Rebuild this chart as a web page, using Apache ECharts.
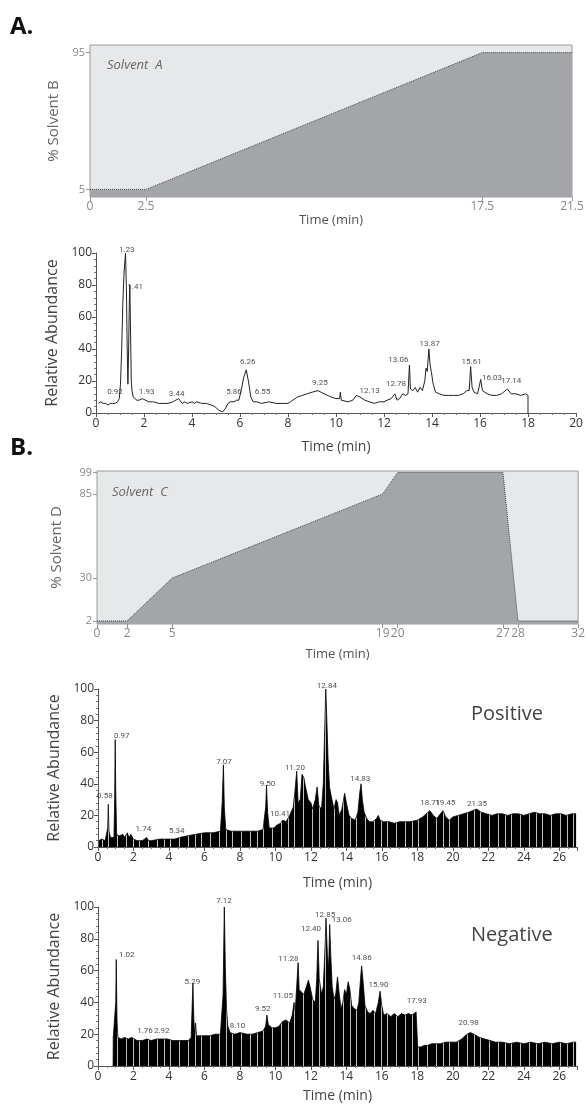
<!DOCTYPE html>
<html>
<head>
<meta charset="utf-8">
<script src="https://cdn.jsdelivr.net/npm/echarts@6/dist/echarts.min.js"></script>
<style>html,body{margin:0;padding:0;background:#fff;}#c{width:588px;height:1104px;}</style>
</head>
<body>
<div id="c"></div>
<script>
// ---------- DATA ----------
const gradA = [[0,5],[2.5,5],[17.5,95],[21.5,95]];
const gradATicksX = [0,2.5,17.5,21.5];
const gradATicksY = [5,95];

const gradB = [[0,2],[2,2],[5,30],[19,85],[20,99],[27,99],[28,2],[32,2]];
const gradBTicksX = [0,2,5,19,20,27,28,32];
const gradBTicksY = [2,30,85,99];

const chromA = [[0.1,6],[0.2,7],[0.3,6],[0.4,6],[0.5,5],[0.6,6],[0.7,6],[0.8,6],[0.9,7],[0.97,9],[1.02,18],[1.07,40],[1.12,70],[1.17,88],[1.23,100],[1.27,75],[1.3,40],[1.33,18],[1.36,40],[1.39,70],[1.41,80],[1.44,50],[1.47,20],[1.5,14],[1.55,10],[1.6,9],[1.7,8],[1.8,8],[1.93,9],[2.0,8],[2.2,7],[2.4,7],[2.6,6],[2.8,6],[3.0,6],[3.2,7],[3.44,9],[3.5,8],[3.6,6],[3.7,7],[3.8,6],[4.0,7],[4.1,6],[4.2,7],[4.4,6],[4.6,6],[4.8,5],[4.95,4],[5.1,2],[5.2,1],[5.3,1],[5.4,3],[5.5,6],[5.6,7],[5.75,7],[5.86,8],[5.95,8],[6.05,14],[6.15,22],[6.26,27],[6.35,20],[6.45,10],[6.55,7],[6.7,7],[6.9,6],[7.2,7],[7.5,6],[7.8,6],[8.0,6],[8.1,7],[8.2,8],[8.4,10],[8.6,11],[8.8,12],[9.0,13],[9.25,14],[9.5,12],[9.8,10],[10.0,9],[10.15,9],[10.18,13],[10.22,8],[10.5,7],[10.7,8],[10.85,11],[11.0,10],[11.2,8],[11.4,7],[11.6,6],[11.8,7],[12.0,7],[12.13,8],[12.3,9],[12.45,12],[12.55,8],[12.65,9],[12.78,12],[12.9,11],[13.0,12],[13.06,30],[13.1,15],[13.2,14],[13.3,16],[13.4,13],[13.5,16],[13.6,14],[13.7,20],[13.75,28],[13.8,26],[13.87,40],[13.92,30],[13.97,26],[14.05,18],[14.15,13],[14.3,12],[14.5,11],[14.7,11],[14.9,11],[15.1,11],[15.3,12],[15.45,14],[15.55,14],[15.61,29],[15.67,16],[15.75,13],[15.9,12],[16.03,21],[16.1,14],[16.3,12],[16.5,11],[16.7,11],[16.9,12],[17.14,15],[17.3,12],[17.5,12],[17.7,11],[17.9,12],[18.0,11],[18.0,0]];
const chromALabels = [[0.79,9,'0.92'],[1.28,98,'1.23'],[1.63,75,'1.41'],[2.11,9,'1.93'],[3.36,8,'3.44'],[5.75,9,'5.86'],[6.32,28,'6.26'],[6.94,9,'6.55'],[9.33,15,'9.25'],[11.4,10,'12.13'],[12.5,14,'12.78'],[12.6,29,'13.06'],[13.9,39,'13.87'],[15.65,28,'15.61'],[16.5,18,'16.03'],[17.3,16,'17.14']];

const chromPos = [[0.05,4],[0.2,5],[0.4,4],[0.5,5],[0.55,12],[0.58,27],[0.62,10],[0.7,6],[0.8,5],[0.9,6],[0.94,30],[0.97,68],[1.0,35],[1.05,8],[1.2,7],[1.4,8],[1.5,6],[1.65,9],[1.75,6],[1.85,8],[2.0,5],[2.2,4],[2.5,4],[2.74,6],[2.85,4],[3.0,4],[3.5,5],[4.0,5],[4.34,5],[4.6,6],[5.0,7],[5.5,8],[6.0,9],[6.5,9],[6.9,10],[7.0,28],[7.07,52],[7.12,25],[7.2,11],[7.5,10],[8.0,10],[8.5,10],[9.0,10],[9.3,11],[9.45,25],[9.5,39],[9.56,22],[9.65,12],[9.9,12],[10.1,14],[10.3,15],[10.41,17],[10.6,16],[10.8,20],[11.0,25],[11.1,35],[11.2,48],[11.28,28],[11.4,30],[11.5,46],[11.6,44],[11.7,38],[11.85,30],[12.0,28],[12.1,24],[12.25,30],[12.35,38],[12.45,26],[12.6,24],[12.7,40],[12.78,75],[12.84,100],[12.9,80],[12.97,55],[13.05,38],[13.15,32],[13.3,24],[13.42,30],[13.5,28],[13.6,20],[13.75,24],[13.9,34],[14.0,28],[14.15,20],[14.3,18],[14.5,17],[14.65,22],[14.75,34],[14.83,40],[14.9,30],[15.0,22],[15.15,18],[15.3,16],[15.5,16],[15.7,18],[15.8,20],[15.9,17],[16.1,16],[16.4,16],[16.7,15],[17.0,16],[17.3,16],[17.6,16],[18.0,17],[18.3,19],[18.5,21],[18.71,23],[18.9,20],[19.1,18],[19.3,21],[19.45,23],[19.6,19],[19.8,17],[20.0,19],[20.3,20],[20.6,21],[20.9,22],[21.1,23],[21.35,24],[21.6,22],[21.9,21],[22.2,20],[22.5,21],[22.8,21],[23.1,20],[23.4,21],[23.7,21],[24.0,20],[24.3,21],[24.6,22],[24.9,21],[25.2,21],[25.5,20],[25.8,21],[26.1,21],[26.4,20],[26.7,21],[26.95,21]];
const chromPosLabels = [[0.39,28,'0.58'],[1.34,66,'0.97'],[2.56,7,'1.74'],[4.44,6,'5.34'],[7.1,50,'7.07'],[9.55,36,'9.50'],[10.26,17,'10.41'],[11.1,46,'11.20'],[12.9,98,'12.84'],[14.78,39,'14.83'],[18.73,24,'18.71'],[19.57,24,'19.45'],[21.36,23,'21.35']];

const chromNeg = [[0.85,0],[0.86,18],[0.95,17],[1.0,40],[1.03,67],[1.07,30],[1.12,18],[1.3,17],[1.5,18],[1.7,17],[1.9,18],[2.0,17],[2.2,16],[2.5,16],[2.76,17],[3.0,16],[3.3,17],[3.6,17],[3.92,17],[4.2,16],[4.5,16],[4.8,16],[5.1,16],[5.25,18],[5.3,35],[5.35,52],[5.4,30],[5.45,20],[5.5,27],[5.55,19],[5.7,19],[6.0,19],[6.3,19],[6.6,20],[6.9,20],[7.05,45],[7.12,100],[7.18,60],[7.25,35],[7.32,25],[7.45,21],[7.7,20],[8.0,21],[8.1,21],[8.4,20],[8.7,20],[9.0,21],[9.3,22],[9.45,25],[9.52,32],[9.6,26],[9.8,24],[10.0,24],[10.2,25],[10.4,28],[10.6,29],[10.8,27],[10.95,32],[11.05,40],[11.12,35],[11.2,50],[11.28,65],[11.34,48],[11.45,47],[11.6,45],[11.75,50],[11.86,54],[11.95,50],[12.1,42],[12.25,40],[12.33,55],[12.4,79],[12.47,55],[12.6,45],[12.7,50],[12.8,75],[12.85,93],[12.93,70],[13.0,62],[13.06,89],[13.12,70],[13.2,50],[13.3,42],[13.4,45],[13.5,56],[13.6,45],[13.7,36],[13.8,40],[13.9,48],[14.0,45],[14.1,53],[14.2,48],[14.3,38],[14.45,36],[14.6,35],[14.7,40],[14.8,55],[14.86,63],[14.95,52],[15.05,38],[15.2,34],[15.35,33],[15.5,35],[15.65,33],[15.8,40],[15.9,47],[16.0,38],[16.1,32],[16.3,33],[16.5,31],[16.7,33],[16.9,31],[17.1,33],[17.3,32],[17.5,33],[17.7,32],[17.93,34],[18.0,33],[18.02,12],[18.2,12],[18.4,13],[18.6,13],[18.8,14],[19.0,14],[19.3,14],[19.6,15],[19.9,15],[20.2,15],[20.5,17],[20.8,20],[20.98,21],[21.2,20],[21.5,18],[21.8,17],[22.1,16],[22.4,15],[22.8,15],[23.2,14],[23.6,15],[24.0,14],[24.4,15],[24.8,14],[25.2,15],[25.6,14],[26.0,15],[26.4,14],[26.8,15],[26.95,15]];
const chromNegLabels = [[1.62,66,'1.02'],[2.65,18,'1.76'],[3.59,18,'2.92'],[5.32,49,'5.29'],[7.1,100,'7.12'],[7.86,21,'8.10'],[9.29,32,'9.52'],[10.42,40,'11.05'],[10.73,63,'11.28'],[12.01,82,'12.40'],[12.8,91,'12.85'],[13.74,88,'13.06'],[14.87,64,'14.86'],[15.81,47,'15.90'],[17.97,37,'17.93'],[20.89,23,'20.98']];

const abundanceRange = [0,100];
// ---------- CHART ----------
const FONT = "'Open Sans', 'Noto Sans', sans-serif";
const chart = echarts.init(document.getElementById('c'), null, {renderer:'canvas'});

// stripe texture imitating the vertical white gaps in the filled chromatograms
function stripePattern(){
  const c = document.createElement('canvas');
  c.width = 31; c.height = 8;
  const g = c.getContext('2d');
  g.fillStyle = '#000'; g.fillRect(0,0,31,8);
  g.fillStyle = 'rgba(255,255,255,0.75)';
  [2,9,15,24].forEach(x => g.fillRect(x,0,1,8));
  return c;
}
const stripes = {image: stripePattern(), repeat:'repeat'};

const grids = [
  {left:90, top:45, width:482, height:152, show:true, backgroundColor:'#e7e8e9', borderColor:'#9a9a9a', borderWidth:1},
  {left:96, top:253, width:480, height:160},
  {left:97, top:471, width:482, height:153, show:true, backgroundColor:'#e7e8e9', borderColor:'#9a9a9a', borderWidth:1},
  {left:98, top:689, width:479, height:158},
  {left:98, top:907, width:479, height:160}
];

function gradX(idx, max, ticks, gap){
  return {gridIndex:idx, type:'value', min:0, max:max, name:'Time (min)', nameLocation:'middle', nameGap:gap,
    nameTextStyle:{fontFamily:FONT, fontSize:13, color:'#555'},
    axisLine:{show:false}, splitLine:{show:false},
    axisTick:{show:true, customValues:ticks, length:4, lineStyle:{color:'#999'}},
    axisLabel:{customValues:ticks, fontFamily:FONT, fontSize:12, color:'#888', margin:4}};
}
function gradY(idx, ticks, name, gap){
  return {gridIndex:idx, type:'value', min:0, max:100, name:name, nameLocation:'middle', nameGap:gap,
    nameTextStyle:{fontFamily:FONT, fontSize:15, color:'#666'},
    axisLine:{show:false}, splitLine:{show:false},
    axisTick:{show:true, customValues:ticks, length:4, lineStyle:{color:'#999'}},
    axisLabel:{customValues:ticks, fontFamily:FONT, fontSize:11, color:'#888', margin:5}};
}
function chromX(idx, max, gap){
  return {gridIndex:idx, type:'value', min:0, max:max, interval:2, name:'Time (min)', nameLocation:'middle', nameGap:gap,
    nameTextStyle:{fontFamily:FONT, fontSize:14, color:'#444'},
    axisLine:{show:true, onZero:false, lineStyle:{color:'#555', width:1}}, splitLine:{show:false},
    axisTick:{show:true, length:4, lineStyle:{color:'#555'}},
    minorTick:{show:true, splitNumber:4, length:2, lineStyle:{color:'#777'}},
    axisLabel:{fontFamily:FONT, fontSize:12, color:'#333', margin:5, showMaxLabel: max % 2 === 0}};
}
function chromY(idx, gap){
  return {gridIndex:idx, type:'value', min:abundanceRange[0], max:abundanceRange[1], interval:20, name:'Relative Abundance', nameLocation:'middle', nameGap:gap,
    nameTextStyle:{fontFamily:FONT, fontSize:16, color:'#444'},
    axisLine:{show:true, onZero:false, lineStyle:{color:'#555', width:1}}, splitLine:{show:false},
    axisTick:{show:true, length:4, lineStyle:{color:'#555'}},
    minorTick:{show:true, splitNumber:5, length:2, lineStyle:{color:'#777'}},
    axisLabel:{fontFamily:FONT, fontSize:12, color:'#333', margin:4}};
}

function labelSeries(idx, data){
  return {type:'scatter', xAxisIndex:idx, yAxisIndex:idx, data:data, symbolSize:1, itemStyle:{color:'rgba(0,0,0,0)'}, z:10, silent:true,
    labelLayout:{hideOverlap:false},
    label:{show:true, position:'top', distance:2, formatter:p=>p.data[2], fontFamily:'Roboto, sans-serif', fontSize:8, color:'#222'}};
}

const option = {
  animation:false,
  grid:grids,
  xAxis:[gradX(0,21.5,gradATicksX,9), chromX(1,20,27), gradX(2,32,gradBTicksX,24), chromX(3,27,29), chromX(4,27,23)],
  yAxis:[gradY(0,gradATicksY,'% Solvent B',27), chromY(1,34), gradY(2,gradBTicksY,'% Solvent D',33), chromY(3,36), chromY(4,34)],
  series:[
    {type:'line', xAxisIndex:0, yAxisIndex:0, data:gradA, symbol:'none', lineStyle:{color:'#444', width:1, type:'dotted'}, areaStyle:{color:'#a3a5a8', opacity:1}},
    {type:'line', xAxisIndex:1, yAxisIndex:1, data:chromA, symbol:'none', lineStyle:{color:'#222', width:1}},
    labelSeries(1, chromALabels),
    {type:'line', xAxisIndex:2, yAxisIndex:2, data:gradB, symbol:'none', lineStyle:{color:'#444', width:1, type:'dotted'}, areaStyle:{color:'#a3a5a8', opacity:1}},
    {type:'line', xAxisIndex:3, yAxisIndex:3, data:chromPos, symbol:'none', lineStyle:{color:'#000', width:0.8}, areaStyle:{color:stripes, opacity:1}},
    labelSeries(3, chromPosLabels),
    {type:'line', xAxisIndex:4, yAxisIndex:4, data:chromNeg, symbol:'none', lineStyle:{color:'#000', width:0.8}, areaStyle:{color:stripes, opacity:1}},
    labelSeries(4, chromNegLabels)
  ],
  graphic:[
    {type:'text', left:10, top:15, style:{text:'A.', fontFamily:FONT, fontSize:24, fontWeight:'bold', fill:'#111'}},
    {type:'text', left:10, top:436, style:{text:'B.', fontFamily:FONT, fontSize:24, fontWeight:'bold', fill:'#111'}},
    {type:'text', left:107, top:59, style:{text:'Solvent  A', fontFamily:FONT, fontSize:13, fontStyle:'italic', fill:'#666'}},
    {type:'text', left:497, top:175, style:{text:'Solvent  B', fontFamily:FONT, fontSize:13, fontStyle:'italic', fill:'#555'}},
    {type:'text', left:112, top:486, style:{text:'Solvent  C', fontFamily:FONT, fontSize:13, fontStyle:'italic', fill:'#666'}},
    {type:'text', left:443, top:602, style:{text:'Solvent  D', fontFamily:FONT, fontSize:13, fontStyle:'italic', fill:'#555'}},
    {type:'text', left:471, top:704, style:{text:'Positive', fontFamily:FONT, fontSize:20, fill:'#444'}},
    {type:'text', left:471, top:925, style:{text:'Negative', fontFamily:FONT, fontSize:20, fill:'#444'}}
  ]
};
chart.setOption(option);
</script>
</body>
</html>
